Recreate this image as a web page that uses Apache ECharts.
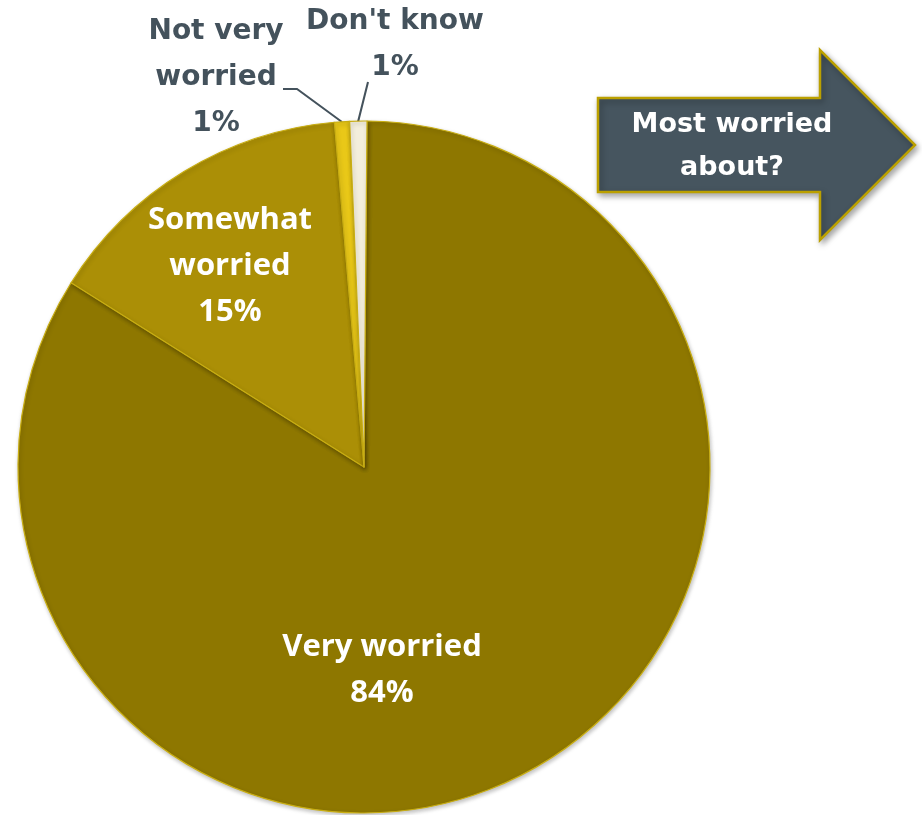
<!DOCTYPE html>
<html>
<head>
<meta charset="utf-8">
<style>html,body{margin:0;padding:0;background:#fff}#c{width:922px;height:815px}</style>
<script src="https://cdn.jsdelivr.net/npm/echarts@6/dist/echarts.min.js"></script>
</head>
<body>
<div id="c"></div>
<script>
const categories = ['Very worried', 'Somewhat worried', 'Not very worried', "Don't know"];
const values = [83.8, 14.7, 0.7, 0.8];
const percentLabels = ['84%', '15%', '1%', '1%'];
const labelLines = ['Very worried', 'Somewhat\nworried', 'Not very\nworried', "Don't know"];
const colors = ['#8E7700', '#AB8F06', '#E9C818', '#F3EEDC'];

const chart = echarts.init(document.getElementById('c'), null, {renderer: 'canvas'});

// label anchor positions (px)
const labelPos = [
  {x: 382, y: 670},
  {x: 230, y: 266},
  {x: 216, y: 78},
  {x: 395, y: 45}
];

const data = categories.map((name, i) => {
  const outside = i >= 2;
  return {
    name: name,
    value: values[i],
    itemStyle: {color: colors[i]},
    label: {
      position: outside ? 'outside' : 'inside',
      color: outside ? '#44525C' : '#ffffff',
      fontFamily: outside ? 'DejaVu Sans' : 'Open Sans',
      fontSize: outside ? 28 : 31,
      lineHeight: outside ? 46 : 46,
      fontWeight: 'bold',
      overflow: 'none'
    },
    labelLine: {show: outside, lineStyle: {color: '#44525C', width: 2}}
  };
});

chart.setOption({
  animation: false,
  series: [{
    type: 'pie',
    center: [364, 467],
    radius: [0, 346],
    startAngle: 89.5,
    clockwise: true,
    data: data,
    itemStyle: {
      borderColor: '#C9AE12',
      borderWidth: 1.2,
      shadowColor: 'rgba(0,0,0,0.25)',
      shadowBlur: 4,
      shadowOffsetX: 1,
      shadowOffsetY: 2
    },
    label: {
      show: true,
      align: 'center',
      overflow: 'none',
      formatter: function (p) { return labelLines[p.dataIndex] + '\n' + percentLabels[p.dataIndex]; }
    },
    labelLayout: function (p) {
      const i = p.dataIndex;
      const pos = labelPos[i];
      const r = {x: pos.x, y: pos.y, align: 'center', verticalAlign: 'middle'};
      if (i === 2) {
        r.labelLinePoints = [[283, 89], [297, 89], [342, 122]];
      } else if (i === 3) {
        r.labelLinePoints = [[368, 82], [368, 82], [358, 122]];
      }
      return r;
    }
  }],
  graphic: [{
    type: 'group',
    children: [{
      type: 'polygon',
      shape: {points: [[598, 98], [820, 98], [820, 50], [915, 145], [820, 240], [820, 192], [598, 192]]},
      style: {
        fill: '#46555F',
        stroke: '#BBA000',
        lineWidth: 2.5,
        shadowColor: 'rgba(0,0,0,0.35)',
        shadowBlur: 6,
        shadowOffsetX: 2,
        shadowOffsetY: 3
      }
    }, {
      type: 'text',
      x: 732, y: 146,
      style: {
        text: 'Most worried\nabout?',
        fill: '#ffffff',
        font: 'bold 27px "DejaVu Sans"',
        lineHeight: 43,
        align: 'center',
        verticalAlign: 'middle'
      }
    }]
  }]
});
</script>
</body>
</html>
